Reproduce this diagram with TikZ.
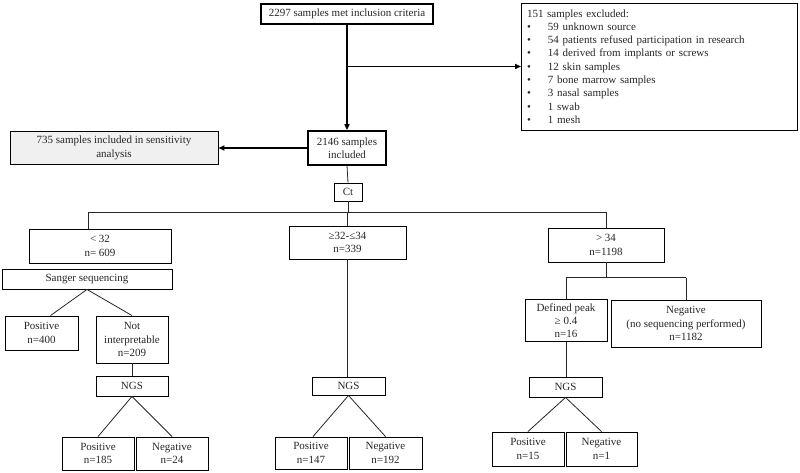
\documentclass[tikz,border=0pt]{standalone}
\usepackage{fontspec}
\setmainfont{Liberation Serif}
\usetikzlibrary{arrows.meta,calc}
\newcommand\exbul{\makebox[21pt][l]{\textbullet}}
\begin{document}
\begin{tikzpicture}[x=1pt,y=-1pt,
  box/.style={draw, line width=0.9pt, inner sep=1pt, align=center, font=\fontsize{11}{13.3}\selectfont, text=black!85},
  conn/.style={line width=0.8pt, draw=black!85},
  bigarrow/.style={line width=1.6pt, -{Triangle[length=6pt,width=5pt]}},
  bigline/.style={line width=1.6pt},
]
\useasboundingbox (0,0) rectangle (800,473);
% top
\node[box, line width=1.2pt, minimum width=172pt, minimum height=20pt] (A) at (347,14) {2297 samples met inclusion criteria};
\node[box, align=left, inner xsep=5.5pt, text width=265pt, minimum height=127pt] (excl) at (659.5,66.5)
  {151 samples excluded:\\
   \exbul 59 unknown source\\
   \exbul 54 patients refused participation in research\\
   \exbul 14 derived from implants or screws\\
   \exbul 12 skin samples\\
   \exbul 7 bone marrow samples\\
   \exbul 3 nasal samples\\
   \exbul 1 swab\\
   \exbul 1 mesh};
\node[box, line width=1.6pt, minimum width=78pt, minimum height=34pt] (B) at (347,148) {2146 samples\\included};
\node[box, fill=black!6, minimum width=208pt, minimum height=33pt] (sens) at (114,148) {735 samples included in sensitivity\\analysis};
\node[box, minimum width=28pt, minimum height=18pt] (Ct) at (348,192) {Ct};
% left branch
\node[box, minimum width=142pt, minimum height=34pt] (lt) at (100,246) {<\ 32\\n= 609};
\node[box, minimum width=170pt, minimum height=20pt] (sanger) at (87,279) {Sanger sequencing};
\node[box, minimum width=73pt, minimum height=34pt] (posA) at (41.5,333) {Positive\\n=400};
\node[box, minimum width=72pt, minimum height=47pt] (notint) at (132,339.5) {Not\\interpretable\\n=209};
\node[box, minimum width=72pt, minimum height=20pt] (ngsA) at (132,386) {NGS};
\node[box, minimum width=72pt, minimum height=33pt] (posA2) at (98,453.5) {Positive\\n=185};
\node[box, minimum width=72pt, minimum height=33pt] (negA2) at (172,453.5) {Negative\\n=24};
% middle branch
\node[box, minimum width=117pt, minimum height=33pt] (mid) at (347.5,242.5) {≥32-≤34\\n=339};
\node[box, minimum width=73pt, minimum height=18pt] (ngsB) at (348.5,386) {NGS};
\node[box, minimum width=72pt, minimum height=32pt] (posB) at (311,453) {Positive\\n=147};
\node[box, minimum width=73pt, minimum height=32pt] (negB) at (385.5,453) {Negative\\n=192};
% right branch
\node[box, minimum width=116pt, minimum height=34pt] (gt) at (606,245) {>\ 34\\n=1198};
\node[box, minimum width=82pt, minimum height=42pt] (peak) at (566,320.5) {Defined peak\\≥ 0.4\\n=16};
\node[box, minimum width=150pt, minimum height=47pt] (negns) at (686,323.5) {Negative\\(no sequencing performed)\\n=1182};
\node[box, minimum width=73pt, minimum height=20pt] (ngsC) at (565.5,387) {NGS};
\node[box, minimum width=72pt, minimum height=34pt] (posC) at (528,449) {Positive\\n=15};
\node[box, minimum width=71pt, minimum height=34pt] (negC) at (601.5,449) {Negative\\n=1};
% coordinates
\coordinate (hl) at (88,212);
\coordinate (hr) at (606,212);
\coordinate (rl) at (566,277.5);
\coordinate (rr) at (686,277.5);
% connectors top
\draw[bigarrow] (A.south) -- (B.north);
\draw[bigarrow] (A.south |- excl.west) -- (excl.west);
\draw[bigarrow] (B.west) -- (sens.east);
\draw[conn] (B.south) -- (Ct.north);
\draw[conn] (Ct.south) -- (Ct.south |- hl);
\draw[conn] (hl) -- (hr);
\draw[conn] (hl) -- (hl |- lt.north);
\draw[conn] (mid.north |- hl) -- (mid.north);
\draw[conn] (hr) -- (gt.north);
% left
\draw[conn] (sanger.south) -- ([xshift=9pt]posA.north);
\draw[conn] (sanger.south) -- (notint.north);
\draw[conn] (notint.south) -- (ngsA.north);
\draw[conn] (ngsA.south) -- (posA2.north);
\draw[conn] (ngsA.south) -- (negA2.north);
% middle
\draw[conn] (mid.south) -- (mid.south |- ngsB.north);
\draw[conn] (ngsB.south) -- ([xshift=2pt]posB.north);
\draw[conn] (ngsB.south) -- (negB.north);
% right
\draw[conn] (gt.south) -- (gt.south |- rl);
\draw[conn] (rl) -- (rr);
\draw[conn] (rl) -- (peak.north);
\draw[conn] (rr) -- (negns.north);
\draw[conn] (peak.south) -- (peak.south |- ngsC.north);
\draw[conn] (ngsC.south) -- (posC.north);
\draw[conn] (ngsC.south) -- (negC.north);
\end{tikzpicture}
\end{document}
